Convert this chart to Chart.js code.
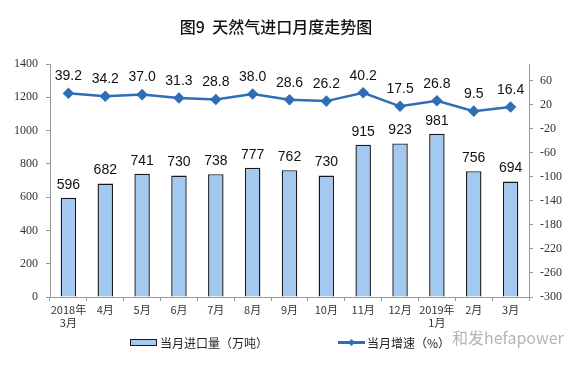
<!DOCTYPE html>
<html>
<head>
<meta charset="utf-8">
<script src="https://cdn.jsdelivr.net/npm/chart.js@4.4.0/dist/chart.umd.min.js"></script>
<style>
  body { margin: 0; background: #fff; }
  #wrap { position: relative; width: 579px; height: 368px; }
  .title { position: absolute; left: 0; width: 552px; top: 14px; text-align: center;
    font: 500 16px "Noto Sans CJK SC", sans-serif; color: #111; }
  .legend { position: absolute; top: 334px; left: 130px; font: 12px "Noto Sans CJK SC", sans-serif; color: #222; }
  .legend span { position: absolute; white-space: nowrap; }
  .box { position: absolute; width: 25px; height: 5px; background: #a3c9f1; border: 1px solid #1a1a1a; }
  .ln { position: absolute; width: 27px; height: 3px; background: #2f6db5; }
  .dm { position: absolute; width: 5px; height: 5px; background: #2f6db5; transform: rotate(45deg); }
  .mark { position: absolute; left: 452px; top: 325px; font: 16px "Noto Sans CJK SC", sans-serif; color: #b5b5b5; }
</style>
</head>
<body>
<div id="wrap">
  <canvas id="chart" width="579" height="368"></canvas>
  <div class="title">图9&nbsp; 天然气进口月度走势图</div>
  <div class="legend">
    <div class="box" style="left:0;top:5px"></div>
    <span style="left:30px;top:0">当月进口量（万吨）</span>
    <div class="ln" style="left:208px;top:7px"></div>
    <div class="dm" style="left:219px;top:6px"></div>
    <span style="left:237px;top:0">当月增速（%）</span>
  </div>
  <div class="mark">和发hefapower</div>
</div>
<script>
// months shown on the x axis
const months = [['2018年', '3月'], '4月', '5月', '6月', '7月', '8月', '9月', '10月', '11月', '12月', ['2019年', '1月'], '2月', '3月'];
// monthly import volume (10k tons)
const imports = [596, 682, 741, 730, 738, 777, 762, 730, 915, 923, 981, 756, 694];
// year-on-year growth (%)
const growth = [39.2, 34.2, 37.0, 31.3, 28.8, 38.0, 28.6, 26.2, 40.2, 17.5, 26.8, 9.5, 16.4];
// right axis tick labels
const growthTicks = [-300, -260, -220, -180, -140, -100, -60, -20, 20, 60];

// draw the value labels above bars and points
const valueLabels = {
  id: 'valueLabels',
  afterDatasetsDraw(chart) {
    const ctx = chart.ctx;
    ctx.save();
    ctx.font = '14px "Liberation Sans", Arial, sans-serif';
    ctx.fillStyle = '#111';
    ctx.textAlign = 'center';
    ctx.textBaseline = 'middle';
    chart.getDatasetMeta(0).data.forEach((bar, i) => {
      ctx.fillText(String(imports[i]), bar.x, bar.y - 13);
    });
    chart.getDatasetMeta(1).data.forEach((pt, i) => {
      ctx.fillText(growth[i].toFixed(1), pt.x, pt.y - 17);
    });
    ctx.restore();
  }
};

const axisFont = { family: 'Liberation Serif', size: 12 };

new Chart(document.getElementById('chart'), {
  type: 'bar',
  data: {
    labels: months,
    datasets: [{
      type: 'bar',
      label: '当月进口量（万吨）',
      data: imports,
      yAxisID: 'y',
      backgroundColor: '#a3c9f1',
      borderColor: '#1a1a1a',
      borderWidth: 1.4,
      barPercentage: 0.42,
      categoryPercentage: 1,
      order: 2
    }, {
      type: 'line',
      label: '当月增速（%）',
      data: growth,
      yAxisID: 'y1',
      borderColor: '#2f6db5',
      backgroundColor: '#2f6db5',
      borderWidth: 2.5,
      pointStyle: 'rectRot',
      pointRadius: 4,
      tension: 0,
      order: 1
    }]
  },
  options: {
    responsive: false,
    animation: false,
    layout: { padding: { top: 64, bottom: 31, left: 0, right: 0 } },
    plugins: { legend: { display: false }, tooltip: { enabled: false } },
    scales: {
      x: {
        afterFit(scale) { scale.height = 40; },
        grid: { drawOnChartArea: false, tickLength: 4, color: '#999' },
        border: { color: '#999' },
        ticks: {
          color: '#333', maxRotation: 0, autoSkip: false, padding: 2,
          font: { family: '"Noto Sans CJK SC", sans-serif', size: 11 }
        }
      },
      y: {
        position: 'left',
        min: 0, max: 1400,
        afterFit(scale) { scale.width = 50; },
        grid: { drawOnChartArea: false, tickLength: 4, color: '#999' },
        border: { color: '#999' },
        ticks: { stepSize: 200, color: '#333', padding: 8, font: axisFont, callback: v => String(v) }
      },
      y1: {
        position: 'right',
        min: -300, max: 88,
        afterFit(scale) { scale.width = 50; },
        afterBuildTicks(scale) { scale.ticks = growthTicks.map(v => ({ value: v })); },
        grid: { drawOnChartArea: false, tickLength: 4, color: '#999' },
        border: { color: '#999' },
        ticks: { color: '#333', padding: 7, font: axisFont, callback: v => String(v) }
      }
    }
  },
  plugins: [valueLabels]
});
</script>
</body>
</html>
